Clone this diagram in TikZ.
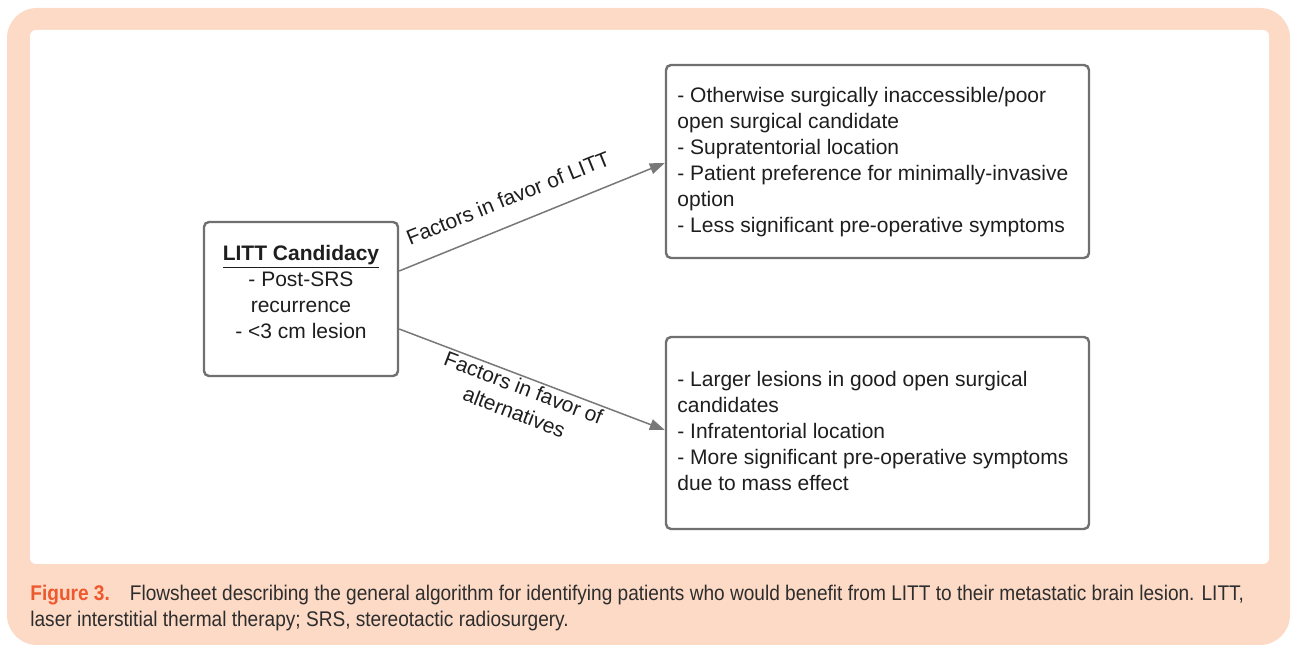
\documentclass[tikz,border=0pt]{standalone}
\usepackage{fontspec}
\setmainfont{Liberation Sans}
\newfontfamily\capfont[FakeStretch=0.9]{Liberation Sans}
\usetikzlibrary{arrows.meta}
\definecolor{peach}{RGB}{252,218,198}
\definecolor{boxgray}{RGB}{112,112,112}
\definecolor{arrgray}{RGB}{120,120,120}
\definecolor{figorange}{RGB}{238,88,45}
\definecolor{txtcol}{RGB}{30,30,30}
\definecolor{capcol}{RGB}{45,45,45}
\begin{document}
\begin{tikzpicture}[x=0.5pt,y=-0.5pt,
  box/.style={draw=boxgray, line width=1.2pt, rounded corners=2.5pt, inner sep=0pt},
  txt/.style={inner sep=0pt, text=txtcol, font=\fontsize{10.5}{13}\selectfont},
  arr/.style={draw=arrgray, line width=0.75pt, -{Triangle[length=7.5pt,width=5.5pt]}},
  capt/.style={inner sep=0pt, text=capcol, font=\capfont\fontsize{10.6}{13}\selectfont}]
\useasboundingbox (0,0) rectangle (1292,651);
\fill[peach, rounded corners=15pt] (7,8) rectangle (1290,645);
\fill[white, rounded corners=3pt] (30,30) rectangle (1269,564);

\node[box, minimum width=97pt, minimum height=77pt] (lb) at (301,299) {};
\node[box, minimum width=211.5pt, minimum height=96.5pt] (tr) at (877.5,161.5) {};
\node[box, minimum width=211.5pt, minimum height=96pt] (br) at (877.5,433) {};

\node[txt, align=center] (lbt) at (301,292) {\underline{\textbf{LITT Candidacy}}\\- Post-SRS\\recurrence\\- <3 cm lesion};
\node[txt, anchor=west, align=left] (trt) at (677,162) {- Otherwise surgically inaccessible/poor\\open surgical candidate\\- Supratentorial location\\- Patient preference for minimally-invasive\\option\\- Less significant pre-operative symptoms};
\node[txt, anchor=west, align=left] (brt) at (677,431) {- Larger lesions in good open surgical\\candidates\\- Infratentorial location\\- More significant pre-operative symptoms\\due to mass effect};

\coordinate (y1) at (0,271);
\coordinate (y2) at (0,163);
\coordinate (y3) at (0,329);
\coordinate (y4) at (0,430);
\draw[arr] (lb.east |- y1) -- (tr.west |- y2);
\draw[arr] (lb.east |- y3) -- (br.west |- y4);

\node[txt, rotate=22] (l1) at (508,198) {Factors in favor of LITT};
\node[txt, rotate=-21, align=center] (l2) at (519,400) {Factors in favor of\\alternatives};

\node[capt, anchor=base west] (cap1) at (30,601) {{\bfseries\color{figorange}Figure 3.}\hspace{10pt}Flowsheet describing the general algorithm for identifying patients who would benefit from LITT to their metastatic brain lesion. LITT,};
\node[capt, anchor=base west] (cap2) at (30,627) {laser interstitial thermal therapy; SRS, stereotactic radiosurgery.};
\end{tikzpicture}
\end{document}
